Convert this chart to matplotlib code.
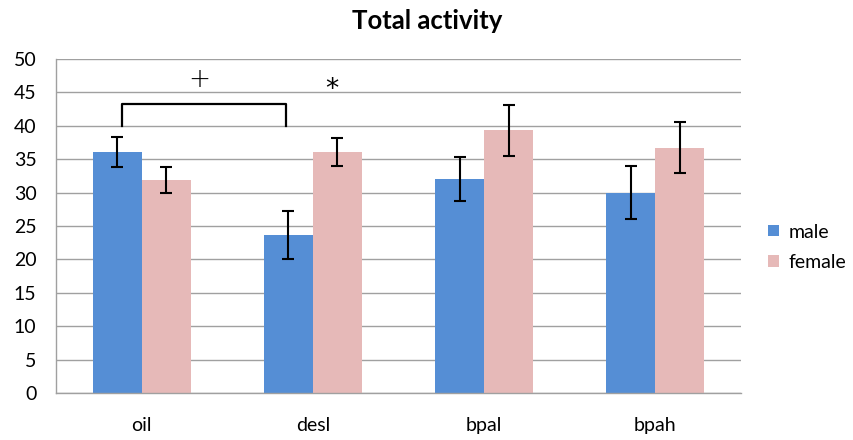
import numpy as np
import matplotlib
matplotlib.use('Agg')
from matplotlib import pyplot as plt

# Group means and error bar half-widths
groups = ['oil', 'desl', 'bpal', 'bpah']
male = [36.1, 23.6, 32.0, 30.0]
female = [31.9, 36.1, 39.3, 36.7]
male_err = [2.25, 3.6, 3.3, 3.9]
female_err = [1.95, 2.1, 3.8, 3.85]

plt.rcParams['font.family'] = ['Lato', 'DejaVu Sans']

fig = plt.figure(figsize=(8.54, 4.4), dpi=100)
ax = fig.add_axes([0.0656, 0.1068, 0.802, 0.7594])

x = np.arange(len(groups))
w = 1 / 3.5
ax.bar(x - w / 2, male, w, color='#558ED5', label='male', zorder=2)
ax.bar(x + w / 2, female, w, color='#E6B9B8', label='female', zorder=2)
ax.errorbar(x - w / 2, male, yerr=male_err, fmt='none', ecolor='black',
            elinewidth=1.5, capsize=4, capthick=1.5, zorder=3)
ax.errorbar(x + w / 2, female, yerr=female_err, fmt='none', ecolor='black',
            elinewidth=1.5, capsize=4, capthick=1.5, zorder=3)

# significance bracket between oil and desl males
bx0, bx1 = x[0] - w / 2 + 0.03, x[1] - w / 2 - 0.015
ax.plot([bx0, bx0, bx1, bx1], [40.0, 43.2, 43.2, 40.0], color='black', lw=1.6, zorder=4)
ax.text((bx0 + bx1) / 2 - 0.03, 46.9, '+', ha='center', va='center', fontsize=19,
        family='DejaVu Sans', fontweight='light')
ax.text(x[1] + w / 2 - 0.03, 45.4, '*', ha='center', va='center', fontsize=19,
        family='DejaVu Sans')

ax.set_xlim(-0.5, 3.5)
ax.set_ylim(0, 50)
ax.set_yticks(np.arange(0, 51, 5))
ax.set_xticks(x)
ax.set_xticklabels(groups)
ax.tick_params(axis='x', length=0, pad=17, labelsize=14)
ax.tick_params(axis='y', length=0, pad=14, labelsize=14)
ax.yaxis.grid(True, color='#A0A0A0', lw=1.0, zorder=0)
ax.set_axisbelow(True)
for s in ['top', 'right']:
    ax.spines[s].set_visible(False)
for s in ['left', 'bottom']:
    ax.spines[s].set_color('#A0A0A0')
    ax.spines[s].set_linewidth(1.0)

fig.suptitle('Total activity', x=0.5, y=0.98, fontsize=18.5, fontweight='bold')

ax.legend(loc='center left', bbox_to_anchor=(1.04, 0.436), frameon=False,
          fontsize=14, handlelength=0.55, handleheight=0.55, handletextpad=0.5,
          labelspacing=0.7, borderpad=0, borderaxespad=0)

fig.savefig('out.png', dpi=100)
